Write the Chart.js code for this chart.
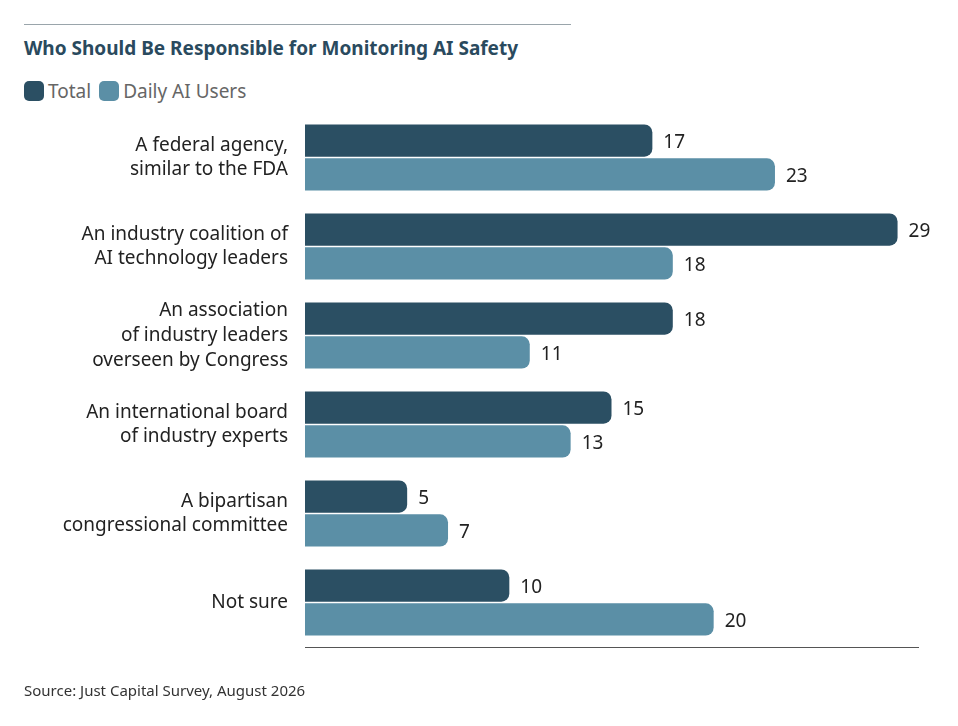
<!DOCTYPE html>
<html>
<head>
<meta charset="utf-8">
<script src="https://cdn.jsdelivr.net/npm/chart.js@4"></script>
<style>
  body { margin: 0; background: #fff; font-family: "Noto Sans", sans-serif; }
  #wrap { position: relative; width: 958px; height: 726px; }
  #rule { position: absolute; left: 24px; top: 24px; width: 547px; border-top: 1px solid #9aa5ab; }
  #title { position: absolute; left: 24px; top: 35px; font-size: 19px; font-weight: bold; color: #2a4a5e; }
  #legend { position: absolute; left: 24px; top: 78px; font-size: 19px; color: #666; display: flex; gap: 8px; }
  #legend span { display: inline-flex; align-items: center; }
  #legend i { display: inline-block; width: 20px; height: 20px; border-radius: 5px; margin-right: 4px; }
  #source { position: absolute; left: 24px; top: 680px; font-size: 15px; color: #333; }
  canvas { position: absolute; left: 0; top: 0; }
</style>
</head>
<body>
<div id="wrap">
  <div id="rule"></div>
  <div id="title">Who Should Be Responsible for Monitoring AI Safety</div>
  <div id="legend"><span><i style="background:#2b4f63"></i>Total</span><span><i style="background:#5b8fa6"></i>Daily AI Users</span></div>
  <canvas id="chart" width="958" height="726"></canvas>
  <div id="source">Source: Just Capital Survey, August 2026</div>
</div>
<script>
const categories = [
  ["A federal agency,", "similar to the FDA"],
  ["An industry coalition of", "AI technology leaders"],
  ["An association", "of industry leaders", "overseen by Congress"],
  ["An international board", "of industry experts"],
  ["A bipartisan", "congressional committee"],
  ["Not sure"]
];
const totalValues = [17, 29, 18, 15, 5, 10];
const dailyUserValues = [23, 18, 11, 13, 7, 20];

const valueLabels = {
  id: "valueLabels",
  afterDatasetsDraw(chart) {
    const ctx = chart.ctx;
    ctx.save();
    ctx.font = "19px 'Noto Sans'";
    ctx.fillStyle = "#222";
    ctx.textBaseline = "middle";
    chart.data.datasets.forEach((ds, i) => {
      chart.getDatasetMeta(i).data.forEach((bar, j) => {
        ctx.fillText(ds.data[j], bar.x + 11, bar.y + 2);
      });
    });
    ctx.restore();
  }
};

new Chart(document.getElementById("chart"), {
  type: "bar",
  data: {
    labels: categories,
    datasets: [
      { label: "Total", data: totalValues, backgroundColor: "#2b4f63",
        borderRadius: { topRight: 8, bottomRight: 8 }, borderSkipped: "start" },
      { label: "Daily AI Users", data: dailyUserValues, backgroundColor: "#5b8fa6",
        borderRadius: { topRight: 8, bottomRight: 8 }, borderSkipped: "start" }
    ]
  },
  options: {
    indexAxis: "y",
    responsive: false,
    animation: false,
    layout: { padding: { top: 113, bottom: 71, right: 40, left: 0 } },
    datasets: { bar: { categoryPercentage: 0.76, barPercentage: 0.95 } },
    plugins: { legend: { display: false }, tooltip: { enabled: false } },
    scales: {
      x: {
        min: 0, max: 30,
        grid: { display: false },
        ticks: { display: false },
        border: { display: true, color: "#555", width: 1 }
      },
      y: {
        grid: { display: false },
        border: { display: false },
        afterFit(scale) { scale.width = 305; },
        ticks: { color: "#222", font: { family: "Noto Sans", size: 19, lineHeight: 1.3 }, padding: 9 }
      }
    }
  },
  plugins: [valueLabels]
});
</script>
</body>
</html>
